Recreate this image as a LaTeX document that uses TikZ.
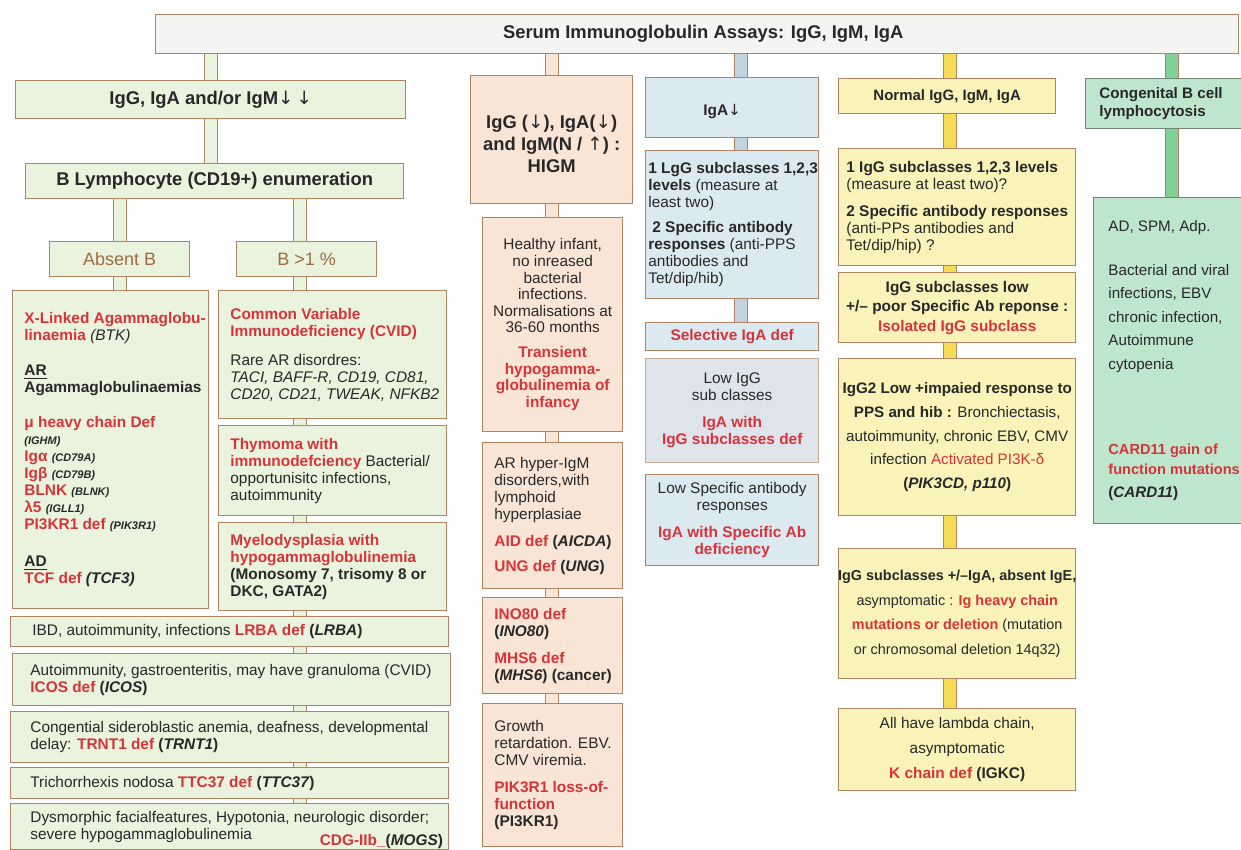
\documentclass[tikz,border=0pt]{standalone}
\usepackage{fontspec}
\setmainfont{Liberation Sans}
\newfontfamily\arrfont{DejaVu Sans}
\usetikzlibrary{backgrounds}

\definecolor{bordr}{RGB}{176,132,98}
\definecolor{bordE}{RGB}{110,132,116}
\definecolor{fillT}{RGB}{244,245,242}
\definecolor{fillA}{RGB}{234,243,222}
\definecolor{fillB}{RGB}{249,229,213}
\definecolor{fillC}{RGB}{219,233,240}
\definecolor{fillCg}{RGB}{223,227,236}
\definecolor{pipeC}{RGB}{196,210,224}
\definecolor{fillD}{RGB}{249,243,185}
\definecolor{pipeD}{RGB}{246,220,84}
\definecolor{fillE}{RGB}{190,230,204}
\definecolor{pipeE}{RGB}{128,208,152}
\definecolor{ired}{RGB}{214,52,58}
\definecolor{tbrown}{RGB}{158,108,62}
\definecolor{txtc}{RGB}{40,40,40}

\newcommand\fs[2]{\fontsize{#1}{#2}\selectfont}
\newcommand\rd[1]{\textcolor{ired}{\bfseries #1}}
\newcommand\gn[1]{\textbf{\textit{#1}}}
\newcommand\dnar{{\arrfont\mdseries ↓}}
\newcommand\upar{{\arrfont\mdseries ↑}}

% box with left-aligned text: name, box style, text style, x1, y1, x2, y2, text
\newcommand\lbox[8]{%
  \pgfmathsetlengthmacro\bxw{(#6-#4)*0.5}%
  \pgfmathsetlengthmacro\bxh{(#7-#5)*0.5}%
  \node[#2,minimum width=\bxw,minimum height=\bxh,anchor=north west] (#1) at (#4,#5) {};%
  \node[tx,align=left,anchor=west,xshift=6pt,#3] (#1-t) at (#1.west) {#8};}
% box with centred text
\newcommand\cbox[8]{%
  \pgfmathsetlengthmacro\bxw{(#6-#4)*0.5}%
  \pgfmathsetlengthmacro\bxh{(#7-#5)*0.5}%
  \node[#2,minimum width=\bxw,minimum height=\bxh,anchor=north west] (#1) at (#4,#5) {};%
  \node[tx,align=center,#3] (#1-t) at (#1.center) {#8};}

\begin{document}
\begin{tikzpicture}[x=0.5pt,y=-0.5pt,
  bx/.style={draw=bordr,line width=0.7pt,inner sep=0pt},
  tx/.style={inner sep=0pt,text=txtc,font=\fs{7.7}{8.5}},
  hd/.style={font=\fs{9.2}{11}\bfseries},
  pipe/.style={draw=bordr,line width=0.6pt,double=#1,double distance=6pt,
    shorten <=-1pt,shorten >=-1pt}]
\useasboundingbox (0,0) rectangle (1241,850);

% pipe positions
\coordinate (xA) at (211,0);
\coordinate (xC) at (120,0);
\coordinate (xD) at (300,0);
\coordinate (xH) at (552,0);
\coordinate (xI) at (741,0);
\coordinate (xN) at (950,0);
\coordinate (xG) at (1172,0);

% title bar
\cbox{serum}{bx,fill=fillT}{font=\fs{9.2}{11}\bfseries,xshift=3pt}{155}{14}{1238}{53}{Serum Immunoglobulin Assays: IgG, IgM, IgA}

% ---- column 1: low IgG / IgA / IgM
\cbox{hA}{bx,fill=fillA}{hd}{15}{80}{405}{118}{IgG, IgA and/or IgM\dnar\,\dnar}
\cbox{hB}{bx,fill=fillA}{hd}{25}{163}{403}{198}{B Lymphocyte (CD19+) enumeration}
\cbox{absB}{bx,fill=fillA}{font=\fs{9}{11},text=tbrown}{49}{241}{189}{276}{Absent B}
\cbox{bOne}{bx,fill=fillA}{font=\fs{9}{11},text=tbrown}{236}{241}{376}{276}{B >1 \%}

\lbox{xla}{bx,fill=fillA}{}{12}{290}{208}{608}{%
\rd{X-Linked Agammaglobu-}\\
\rd{linaemia} \textit{(BTK)}\\[9pt]
\textbf{\underline{AR}}\\
\textbf{Agammaglobulinaemias}\\[9pt]
\rd{μ heavy chain Def}\\
{\fs{5.5}{8}\gn{(IGHM)}}\\
\rd{Igα} {\fs{5.5}{8}\gn{(CD79A)}}\\
\rd{Igβ} {\fs{5.5}{8}\gn{(CD79B)}}\\
\rd{BLNK} {\fs{5.5}{8}\gn{(BLNK)}}\\
\rd{λ5} {\fs{5.5}{8}\gn{(IGLL1)}}\\
\rd{PI3KR1 def} {\fs{5.5}{8}\gn{(PIK3R1)}}\\[10pt]
\textbf{\underline{AD}}\\
\rd{TCF def} \gn{(TCF3)}}

\lbox{cvid}{bx,fill=fillA}{}{218}{290}{446}{418}{%
\rd{Common Variable}\\
\rd{Immunodeficiency (CVID)}\\[6pt]
Rare AR disordres:\\
\textit{TACI, BAFF-R, CD19, CD81,}\\
\textit{CD20, CD21, TWEAK, NFKB2}}

\lbox{thy}{bx,fill=fillA}{}{218}{425}{446}{515}{%
\rd{Thymoma with}\\
\rd{immunodefciency} Bacterial/\\
opportunisitc infections,\\
autoimmunity}

\lbox{mds}{bx,fill=fillA}{}{218}{522}{446}{610}{%
\rd{Myelodysplasia with}\\
\rd{hypogammaglobulinemia}\\
\textbf{(Monosomy 7, trisomy 8 or}\\
\textbf{DKC, GATA2)}}

\lbox{lrba}{bx,fill=fillA}{xshift=5pt}{10}{616}{448}{646}{IBD, autoimmunity, infections \rd{LRBA def} \textbf{(\textit{LRBA})}}
\lbox{icos}{bx,fill=fillA}{xshift=3pt}{12}{653}{450}{705}{Autoimmunity, gastroenteritis, may have granuloma (CVID)\\ \rd{ICOS def} \textbf{(\textit{ICOS})}}
\lbox{trnt}{bx,fill=fillA}{xshift=4pt}{10}{711}{448}{762}{Congential sideroblastic anemia, deafness, developmental\\ delay: \rd{TRNT1 def} \textbf{(\textit{TRNT1})}}
\lbox{ttc}{bx,fill=fillA}{xshift=4pt}{10}{767}{448}{798}{Trichorrhexis nodosa \rd{TTC37 def} \textbf{(\textit{TTC37})}}
\lbox{cdg}{bx,fill=fillA}{xshift=4pt}{10}{803}{448}{849}{Dysmorphic facialfeatures, Hypotonia, neurologic disorder;\\ severe hypogammaglobulinemia}
\node[tx,anchor=base east] (cdg-r) at ([xshift=-3pt]cdg.east |- 0,845) {\rd{CDG-IIb\_}\textbf{(\textit{MOGS})}};

% ---- column 2: hyper-IgM
\cbox{higm}{bx,fill=fillB}{hd,yshift=-2pt}{470}{75}{632}{203}{IgG (\dnar), IgA(\dnar)\\ and IgM(N / \upar) :\\ HIGM}
\cbox{heal}{bx,fill=fillB}{font=\fs{7.7}{8.3}}{482}{217}{622}{431}{Healthy infant,\\ no inreased\\ bacterial\\ infections.\\ Normalisations at\\ 36-60 months\\[4pt] \rd{Transient}\\ \rd{hypogamma-}\\ \rd{globulinemia of}\\ \rd{infancy}}
\lbox{arh}{bx,fill=fillB}{}{482}{442}{622}{588}{AR hyper-IgM\\ disorders,with\\ lymphoid\\ hyperplasiae\\[5pt] \rd{AID def} \textbf{(\textit{AICDA})}\\[4pt] \rd{UNG def} \textbf{(\textit{UNG})}}
\lbox{ino}{bx,fill=fillB}{}{482}{597}{622}{693}{\rd{INO80 def}\\ \textbf{(\textit{INO80})}\\[5pt] \rd{MHS6 def}\\ \textbf{(\textit{MHS6}) (cancer)}}
\lbox{gro}{bx,fill=fillB}{}{482}{703}{622}{846}{Growth\\ retardation. EBV.\\ CMV viremia.\\[5pt] \rd{PIK3R1 loss-of-}\\ \rd{function}\\ \textbf{(PI3KR1)}}

% ---- column 3: low IgA
\cbox{iga}{bx,fill=fillC}{font=\fs{7.7}{9}\bfseries,xshift=-5pt,yshift=-2pt}{645}{77}{818}{137}{IgA\dnar}
\lbox{sub}{bx,fill=fillC}{xshift=-4.5pt}{645}{150}{818}{298}{\textbf{1 LgG subclasses 1,2,3}\\ \textbf{levels} (measure at\\ least two)\\[4pt] \hspace{2pt}\textbf{2 Specific antibody}\\ \textbf{responses} (anti-PPS\\ antibodies and\\ Tet/dip/hib)}
\cbox{sel}{bx,fill=fillC}{}{645}{322}{818}{350}{\rd{Selective IgA def}}
\cbox{lowg}{bx,fill=fillCg,draw=bordr!70}{}{645}{358}{818}{462}{Low IgG\\ sub classes\\[5pt] \rd{IgA with}\\ \rd{IgG subclasses def}}
\cbox{lows}{bx,fill=fillC}{}{645}{474}{818}{565}{Low Specific antibody\\ responses\\[5pt] \rd{IgA with Specific Ab}\\ \rd{deficiency}}

% ---- column 4: normal levels
\cbox{norm}{bx,fill=fillD}{font=\fs{7.5}{9}\bfseries}{838}{78}{1055}{113}{Normal IgG, IgM, IgA}
\lbox{q}{bx,fill=fillD}{xshift=-2pt}{838}{148}{1075}{265}{\textbf{1 IgG subclasses 1,2,3 levels}\\ (measure at least two)?\\[5pt] \textbf{2 Specific antibody responses}\\ (anti-PPs antibodies and\\ Tet/dip/hip) ?}
\cbox{iso}{bx,fill=fillD}{font=\fs{7.7}{9.8}}{838}{272}{1075}{342}{\textbf{IgG subclasses low}\\ \textbf{+/– poor Specific Ab reponse :}\\ \rd{Isolated IgG subclass}}
\cbox{igg}{bx,fill=fillD}{font=\fs{7.6}{11.8}}{838}{358}{1075}{515}{\textbf{IgG2 Low +impaied response to}\\ \textbf{PPS and hib :} Bronchiectasis,\\ autoimmunity, chronic EBV, CMV\\ infection \textcolor{ired}{Activated PI3K-δ}\\ \textbf{(\textit{PIK3CD, p110})}}
\cbox{hc}{bx,fill=fillD}{font=\fs{7.2}{12.2}}{838}{548}{1075}{678}{\textbf{IgG subclasses +/–IgA, absent IgE,}\\ asymptomatic : \rd{Ig heavy chain}\\ \rd{mutations or deletion} (mutation\\ or chromosomal deletion 14q32)}
\cbox{kc}{bx,fill=fillD}{font=\fs{7.7}{12.4}}{838}{708}{1075}{790}{All have lambda chain,\\ asymptomatic\\ \rd{K chain def} \textbf{(IGKC)}}

% ---- column 5: congenital B cell lymphocytosis
\lbox{cong}{bx,fill=fillE,draw=bordE}{font=\fs{7.6}{9},xshift=1pt}{1085}{78}{1250}{128}{\textbf{Congenital B cell}\\ \textbf{lymphocytosis}}
\lbox{card}{bx,fill=fillE,draw=bordE}{font=\fs{7.6}{11.75},xshift=1.5pt}{1093}{197}{1250}{523}{AD, SPM, Adp.\\[10pt] Bacterial and viral\\ infections, EBV\\ chronic infection,\\ Autoimmune\\ cytopenia\\[31pt] {\fs{7.3}{11.75}\rd{CARD11 gain of}}\\[-2pt] {\fs{7.3}{11.75}\rd{function mutations}}\\ \textbf{(\textit{CARD11})}}

% ---- connecting pipes
\begin{scope}[on background layer]
\draw[pipe=fillA] (serum.south -| xA) -- (hA.north -| xA);
\draw[pipe=fillA] (hA.south -| xA) -- (hB.north -| xA);
\draw[pipe=fillA] (hB.south -| xC) -- (absB.north -| xC);
\draw[pipe=fillA] (absB.south -| xC) -- (xla.north -| xC);
\draw[pipe=fillA] (hB.south -| xD) -- (bOne.north -| xD);
\foreach \a/\b in {bOne/cvid,cvid/thy,thy/mds,mds/lrba,lrba/icos,icos/trnt,trnt/ttc,ttc/cdg}
  \draw[pipe=fillA] (\a.south -| xD) -- (\b.north -| xD);
\foreach \a/\b in {serum/higm,higm/heal,heal/arh,arh/ino,ino/gro}
  \draw[pipe=fillB] (\a.south -| xH) -- (\b.north -| xH);
\foreach \a/\b in {serum/iga,iga/sub,sub/sel}
  \draw[pipe=pipeC] (\a.south -| xI) -- (\b.north -| xI);
\foreach \a/\b in {serum/norm,norm/q,q/iso,iso/igg,igg/hc,hc/kc}
  \draw[pipe=pipeD] (\a.south -| xN) -- (\b.north -| xN);
\foreach \a/\b in {serum/cong,cong/card}
  \draw[pipe=pipeE] (\a.south -| xG) -- (\b.north -| xG);
\end{scope}
\end{tikzpicture}
\end{document}
